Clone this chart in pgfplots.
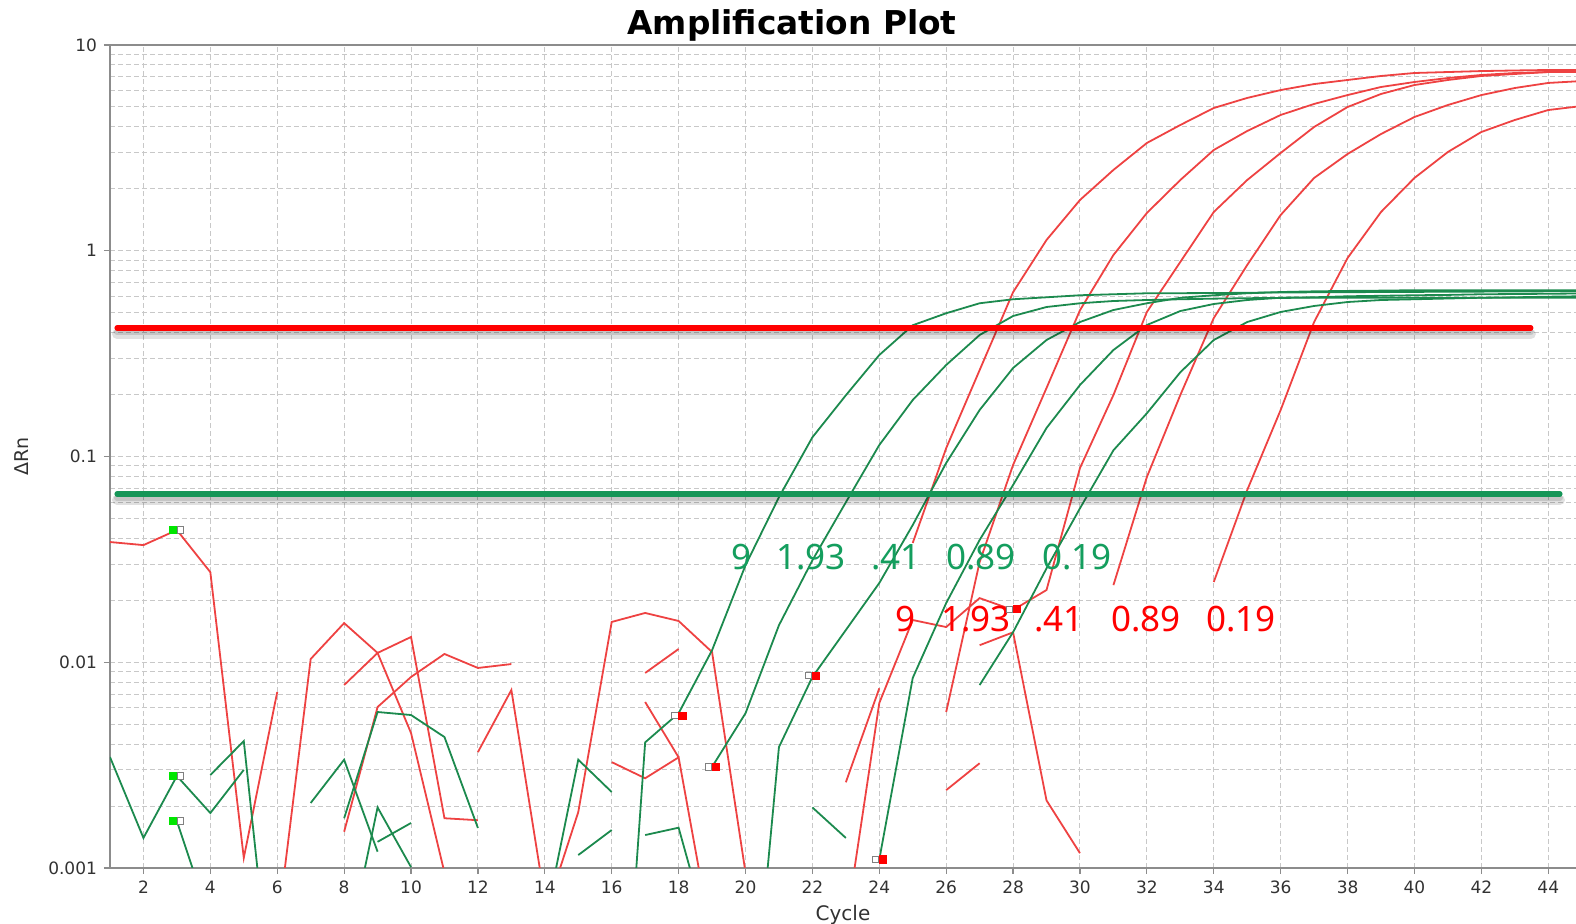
\documentclass[border=0pt]{standalone}
\usepackage{fontspec}
\setmainfont{DejaVu Sans}
\newfontfamily\labfont{Noto Sans}
\usepackage{pgfplots}
\pgfplotsset{compat=1.18}
\definecolor{redcurve}{RGB}{238,66,66}
\definecolor{greencurve}{RGB}{28,138,78}
\definecolor{redthr}{RGB}{255,0,0}
\definecolor{greenthr}{RGB}{22,150,88}
\definecolor{gtext}{RGB}{20,158,94}
\definecolor{rtext}{RGB}{255,0,0}
\definecolor{gridc}{RGB}{200,200,200}
\definecolor{axisc}{RGB}{140,140,140}
\definecolor{tickc}{RGB}{50,50,50}
\definecolor{mgreen}{RGB}{0,230,0}
\pgfplotsset{
  rc/.style={redcurve, line width=0.9pt, mark=none},
  gc/.style={greencurve, line width=0.9pt, mark=none},
}
\begin{document}
\begin{tikzpicture}[x=1pt,y=1pt]
\path[use as bounding box] (-55,-28) rectangle (733,434);
\begin{axis}[
  at={(0,0)}, anchor=south west,
  scale only axis, width=733pt, height=411.5pt,
  ymode=log, xmin=1, xmax=44.83, ymin=0.001, ymax=10,
  axis x line*=bottom, axis y line*=left,
  axis line style={axisc, line width=0.8pt, -},
  xtick={2,4,...,44},
  ytick={0.001,0.01,0.1,1,10},
  yticklabels={0.001,0.01,0.1,1,10},
  /pgf/number format/assume math mode=true,
  xmajorgrids, ymajorgrids, yminorgrids,
  grid style={gridc, line width=0.5pt, dash pattern=on 2.5pt off 1.5pt},
  major tick length=3pt, minor tick length=0pt,
  tick align=outside,
  tick style={axisc, line width=0.6pt},
  ticklabel style={font=\fontsize{8.5}{10}\selectfont, text=tickc},
  xlabel={Cycle},
  xlabel style={at={(axis description cs:0.5,0)}, anchor=center, yshift=-23.5pt, font=\fontsize{10}{12}\selectfont, text=tickc},
]
% ---- red noise fragments
\addplot[rc] coordinates {(1,0.0384)(2,0.0371)(3,0.0439)(4,0.0274)(5,0.00112)(6,0.00717)};
\addplot[rc] coordinates {(6,0.0005)(7,0.01037)(8,0.0155)(9,0.0111)(10,0.00453)(11,0.00095)};
\addplot[rc] coordinates {(8,0.00775)(9,0.0111)(10,0.01327)(11,0.001745)(12,0.001707)};
\addplot[rc] coordinates {(8,0.0015)(9,0.00606)(10,0.00848)(11,0.01097)(12,0.00938)(13,0.0098)};
\addplot[rc] coordinates {(12,0.00366)(13,0.00733)(14,0.0007)};
\addplot[rc] coordinates {(14,0.00059)(15,0.00187)(16,0.0157)(17,0.01736)(18,0.01587)(19,0.01121)(20,0.00095)};
\addplot[rc] coordinates {(17,0.00887)(18,0.0116)};
\addplot[rc] coordinates {(16,0.00327)(17,0.00273)(18,0.00345)(19,0.00044)};
\addplot[rc] coordinates {(17,0.00641)(18,0.00345)};
\addplot[rc] coordinates {(23,0.00261)(24,0.00747)};
\addplot[rc] coordinates {(26,0.00239)(27,0.00323)};
\addplot[rc] coordinates {(27,0.0121)(28,0.01398)(29,0.00213)(30,0.00118)};
% ---- red amplification curves
\addplot[rc] coordinates {(25,0.038)(26,0.1098)(27,0.263)(28,0.629)(29,1.128)(30,1.765)(31,2.47)(32,3.34)(33,4.085)(34,4.94)(35,5.53)(36,6.04)(37,6.46)(38,6.76)(39,7.07)(40,7.31)(41,7.39)(42,7.47)(43,7.52)(44,7.56)(45,7.56)};
\addplot[rc] coordinates {(26,0.00573)(27,0.0307)(28,0.0910)(29,0.2153)(30,0.514)(31,0.9535)(32,1.526)(33,2.207)(34,3.088)(35,3.82)(36,4.57)(37,5.17)(38,5.71)(39,6.25)(40,6.61)(41,6.91)(42,7.15)(43,7.31)(44,7.39)(45,7.47)};
\addplot[rc] coordinates {(23,0.00052)(24,0.00634)(25,0.01604)(26,0.01483)(27,0.0205)(28,0.01794)(29,0.02245)(30,0.0879)(31,0.199)(32,0.504)(33,0.882)(34,1.543)(35,2.207)(36,2.987)(37,3.996)(38,4.996)(39,5.78)(40,6.39)(41,6.76)(42,7.07)(43,7.23)(44,7.39)(45,7.39)};
\addplot[rc] coordinates {(31,0.0237)(32,0.0795)(33,0.199)(34,0.471)(35,0.8526)(36,1.492)(37,2.258)(38,2.953)(39,3.693)(40,4.467)(41,5.11)(42,5.71)(43,6.18)(44,6.54)(45,6.68)};
\addplot[rc] coordinates {(34,0.02455)(35,0.0687)(36,0.1683)(37,0.4504)(38,0.922)(39,1.543)(40,2.258)(41,3.02)(42,3.778)(43,4.32)(44,4.83)(45,5.05)};
% ---- green noise fragments
\addplot[gc] coordinates {(1,0.00346)(2,0.0014)(3,0.0028)(4,0.00185)(5,0.003)};
\addplot[gc] coordinates {(4,0.00283)(5,0.00414)(6,0.000125)};
\addplot[gc] coordinates {(3,0.00169)(4,0.00055)};
\addplot[gc] coordinates {(7,0.00207)(8,0.00336)(9,0.0012)};
\addplot[gc] coordinates {(8,0.001745)(9,0.00573)(10,0.00554)(11,0.00433)(12,0.001565)};
\addplot[gc] coordinates {(8,0.00033)(9,0.00197)(10,0.00101)};
\addplot[gc] coordinates {(9,0.00134)(10,0.001655)};
\addplot[gc] coordinates {(14,0.00054)(15,0.00336)(16,0.00234)};
\addplot[gc] coordinates {(15,0.001156)(16,0.00153)};
\addplot[gc] coordinates {(17,0.001446)(18,0.00157)(19,0.00041)};
\addplot[gc] coordinates {(22,0.00197)(23,0.0014)};
% ---- green amplification curves
\addplot[gc] coordinates {(16,0.00002)(17,0.00408)(18,0.00565)(19,0.01144)(20,0.0296)(21,0.0634)(22,0.124)(23,0.1984)(24,0.3113)(25,0.4344)(26,0.4969)(27,0.5556)(28,0.581)(29,0.594)(30,0.6077)(31,0.6145)(32,0.6214)(33,0.622)(34,0.623)(35,0.625)(36,0.627)(37,0.628)(38,0.629)(39,0.63)(40,0.631)(41,0.632)(42,0.633)(43,0.634)(44,0.635)(45,0.635)};
\addplot[gc] coordinates {(19,0.0031)(20,0.00565)(21,0.01513)(22,0.0313)(23,0.0599)(24,0.1137)(25,0.1882)(26,0.2784)(27,0.3895)(28,0.4818)(29,0.5328)(30,0.5556)(31,0.5698)(32,0.5762)(33,0.581)(34,0.585)(35,0.588)(36,0.59)(37,0.591)(38,0.591)(39,0.591)(40,0.591)(41,0.591)(42,0.591)(43,0.591)(44,0.591)(45,0.591)};
\addplot[gc] coordinates {(20,0.00007)(21,0.00387)(22,0.00848)(23,0.01434)(24,0.02427)(25,0.04645)(26,0.093)(27,0.1683)(28,0.2692)(29,0.3683)(30,0.4504)(31,0.5152)(32,0.5556)(33,0.5907)(34,0.6077)(35,0.6214)(36,0.63)(37,0.635)(38,0.638)(39,0.64)(40,0.643)(41,0.643)(42,0.643)(43,0.643)(44,0.643)(45,0.643)};
\addplot[gc] coordinates {(24,0.0011)(25,0.00839)(26,0.0194)(27,0.0393)(28,0.0727)(29,0.1376)(30,0.2226)(31,0.3293)(32,0.4356)(33,0.5094)(34,0.5511)(35,0.5762)(36,0.591)(37,0.594)(38,0.6008)(39,0.604)(40,0.6077)(41,0.61)(42,0.6145)(43,0.616)(44,0.618)(45,0.62)};
\addplot[gc] coordinates {(27,0.00775)(28,0.014)(29,0.0286)(30,0.056)(31,0.1072)(32,0.1622)(33,0.2567)(34,0.3683)(35,0.4504)(36,0.504)(37,0.539)(38,0.5634)(39,0.5762)(40,0.581)(41,0.586)(42,0.591)(43,0.594)(44,0.598)(45,0.6008)};
% ---- threshold lines with shadow
\draw[black, opacity=0.12, line width=5pt, line cap=round, yshift=-3pt] (axis cs:1.21,0.421) -- (axis cs:43.48,0.421);
\draw[black, opacity=0.12, line width=3pt, line cap=round, yshift=-2pt] (axis cs:1.21,0.421) -- (axis cs:43.48,0.421);
\draw[black, opacity=0.12, line width=5pt, line cap=round, yshift=-3pt] (axis cs:1.21,0.0658) -- (axis cs:44.35,0.0658);
\draw[black, opacity=0.12, line width=3pt, line cap=round, yshift=-2pt] (axis cs:1.21,0.0658) -- (axis cs:44.35,0.0658);
\addplot[redthr, line width=2.6pt, line cap=round] coordinates {(1.21,0.421)(43.48,0.421)};
\addplot[greenthr, line width=2.6pt, line cap=round] coordinates {(1.21,0.0658)(44.35,0.0658)};
% ---- markers
\addplot[only marks, mark=square*, mark size=1.8pt, mark options={fill=mgreen, draw=mgreen, xshift=-1.9pt}] coordinates {(3,0.0439)(3,0.0028)(3,0.00169)};
\addplot[only marks, mark=square*, mark size=1.6pt, mark options={fill=white, draw=gray, line width=0.5pt, xshift=1.9pt}] coordinates {(3,0.0439)(3,0.0028)(3,0.00169)};
\addplot[only marks, mark=square*, mark size=1.6pt, mark options={fill=white, draw=gray, line width=0.5pt, xshift=-1.9pt}] coordinates {(18,0.0055)(19,0.0031)(22,0.0086)(24,0.0011)(28,0.0181)};
\addplot[only marks, mark=square*, mark size=1.8pt, mark options={fill=red, draw=red, xshift=1.9pt}] coordinates {(18,0.0055)(19,0.0031)(22,0.0086)(24,0.0011)(28,0.0181)};
% ---- annotation texts
\begin{scope}[every node/.style={font=\labfont\fontsize{17.5}{20}\selectfont, inner sep=0pt, anchor=center}]
\node[text=gtext] at (axis cs:19.89,0.03247) {9};
\node[text=gtext] at (axis cs:21.96,0.03247) {1.93};
\node[text=gtext] at (axis cs:24.50,0.03247) {.41};
\node[text=gtext] at (axis cs:27.04,0.03247) {0.89};
\node[text=gtext] at (axis cs:29.91,0.03247) {0.19};
\node[text=rtext] at (axis cs:24.77,0.01623) {9};
\node[text=rtext] at (axis cs:26.89,0.01623) {1.93};
\node[text=rtext] at (axis cs:29.37,0.01623) {.41};
\node[text=rtext] at (axis cs:31.97,0.01623) {0.89};
\node[text=rtext] at (axis cs:34.81,0.01623) {0.19};
\end{scope}
\end{axis}
\draw[axisc, line width=0.8pt] (0,411.5) -- (733,411.5);
\node[rotate=90, font=\fontsize{9.5}{11}\selectfont, text=tickc] at (-44,205.75) {ΔRn};
\node[font=\bfseries\fontsize{16.4}{18}\selectfont] at (341,421.5) {Amplification Plot};
\end{tikzpicture}
\end{document}
